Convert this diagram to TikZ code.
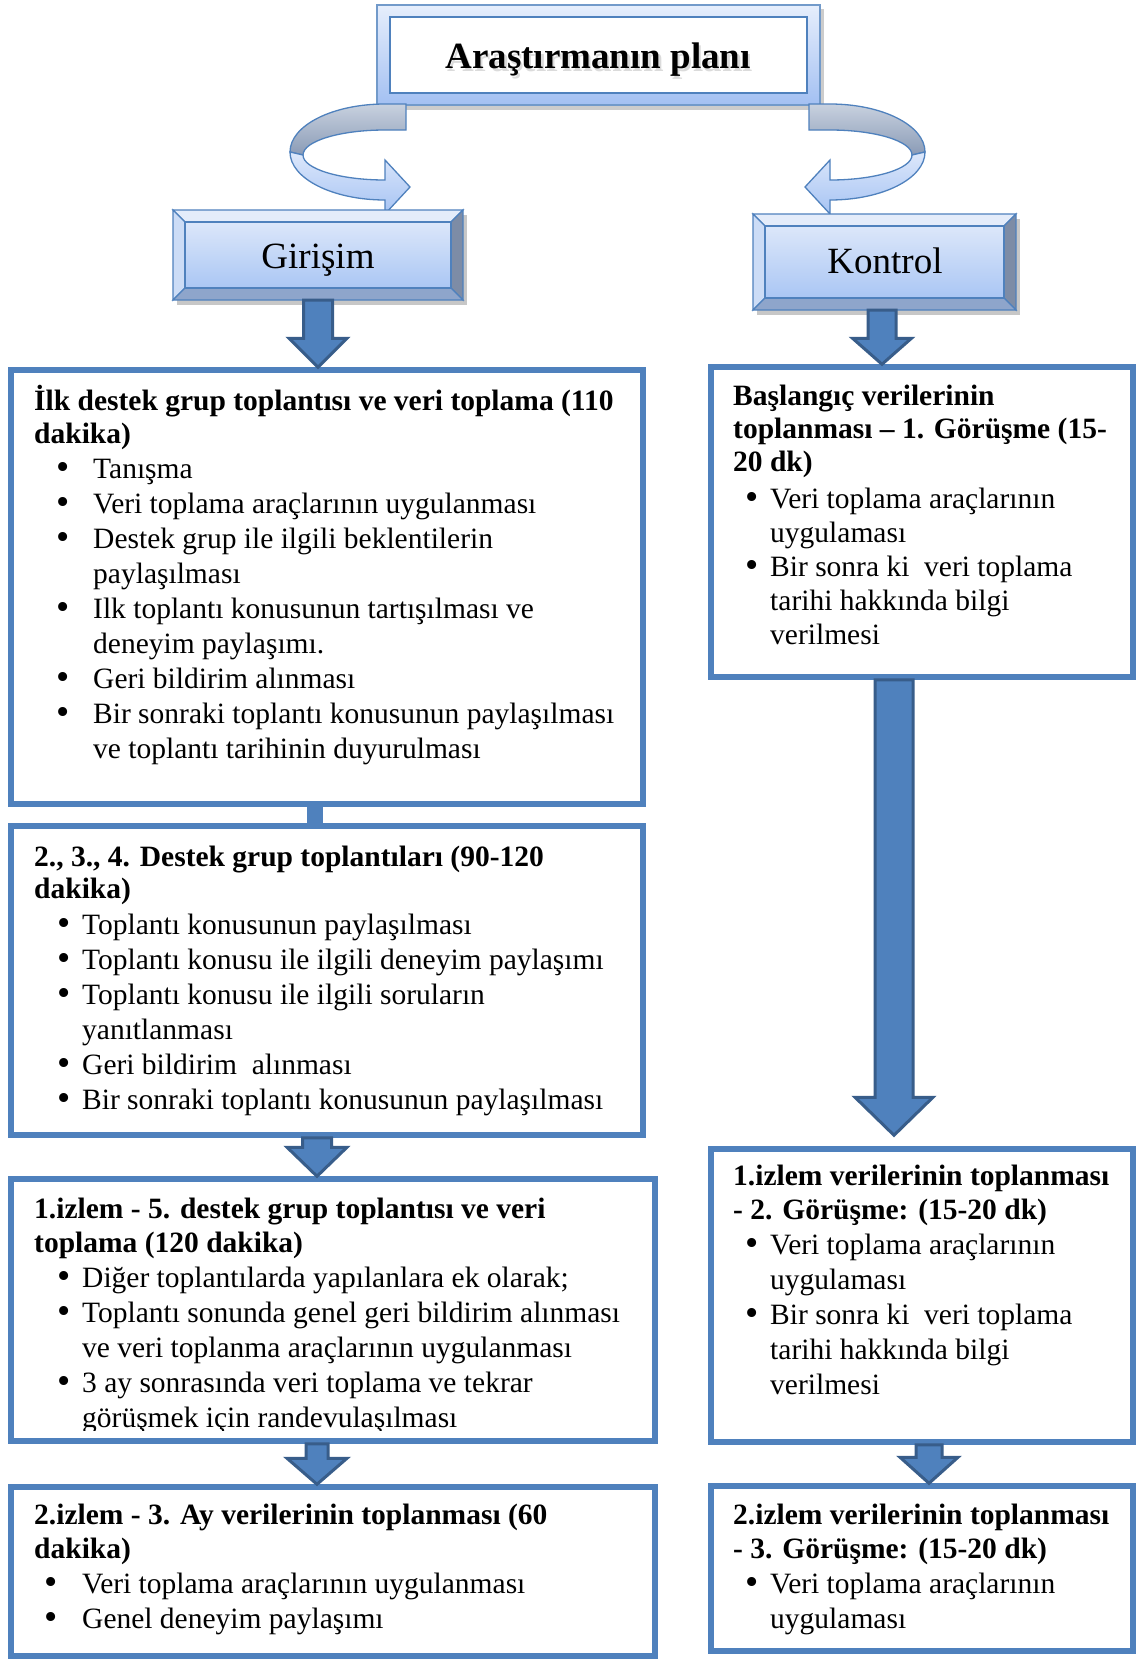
\documentclass[tikz,border=0pt]{standalone}
\usepackage{fontspec}
\setmainfont{Liberation Serif}
\usepackage{graphicx}
\usetikzlibrary{calc}
\definecolor{bord}{HTML}{4F81BD}
\definecolor{darkb}{HTML}{385D8A}
\definecolor{ttop}{HTML}{E6EEFC}
\definecolor{tbot}{HTML}{A3C0F2}
\definecolor{ftop}{HTML}{DCE7FA}
\definecolor{fbot}{HTML}{AAC6F4}
\definecolor{bvtop}{HTML}{E4ECFA}
\definecolor{bvleft}{HTML}{CCDCF6}
\definecolor{bvright}{HTML}{7D8CA6}
\definecolor{bvbot}{HTML}{8EA5CB}
\definecolor{rbtop}{HTML}{C8D1DF}
\definecolor{rbbot}{HTML}{8A9BB6}
\definecolor{rftop}{HTML}{DDE8FB}
\definecolor{rfbot}{HTML}{A6C3F3}
\newcommand\bdot{\makebox[0pt]{\raisebox{-0.04em}{\scalebox{1.28}{\textbullet}}}}
\newcommand\bi[3]{\hspace*{#1}\bdot\hspace*{\dimexpr#2-#1\relax}#3}
\newcommand\ci[2]{\hspace*{#1}#2}
\newcommand\blockarr[5]{\draw[barrow] let \p1=#1, \p2=#2 in
  (\x1-#3,\y1) -- (\x1+#3,\y1) -- (\x1+#3,\y2+#5) -- (\x1+#4,\y2+#5) -- (\x1,\y2)
  -- (\x1-#4,\y2+#5) -- (\x1-#3,\y2+#5) -- cycle;}
\newcommand\bevel[4]{%
  \fill[black,opacity=0.22] (#1+4,#2+5) rectangle (#3+4,#4+5);
  \filldraw[fill=bvtop,draw=bord,line width=1.2pt] (#1,#2) -- (#3,#2) -- (#3-12,#2+12) -- (#1+12,#2+12) -- cycle;
  \filldraw[fill=bvleft,draw=bord,line width=1.2pt] (#1,#2) -- (#1+12,#2+12) -- (#1+12,#4-12) -- (#1,#4) -- cycle;
  \filldraw[fill=bvright,draw=bord,line width=1.2pt] (#3,#2) -- (#3,#4) -- (#3-12,#4-12) -- (#3-12,#2+12) -- cycle;
  \filldraw[fill=bvbot,draw=bord,line width=1.2pt] (#1,#4) -- (#3,#4) -- (#3-12,#4-12) -- (#1+12,#4-12) -- cycle;
  \shadedraw[top color=ftop,bottom color=fbot,draw=bord,line width=1.2pt] (#1+12,#2+12) rectangle (#3-12,#4-12);}
\newcommand\ribbonarrow{%
  \shadedraw[top color=rbtop,bottom color=rbbot,draw=bord,line width=1.3pt]
    (21,-48) -- (0,-48) arc[start angle=270,end angle=180,x radius=95,y radius=48]
    -- (-82,3) arc[start angle=180,end angle=270,x radius=82,y radius=25] -- (21,-22) -- cycle;
  \shadedraw[top color=rftop,bottom color=rfbot,draw=bord,line width=1.3pt]
    (-95,0) arc[start angle=180,end angle=90,x radius=95,y radius=48]
    -- (0,62) -- (25,35) -- (0,8) -- (0,28)
    arc[start angle=90,end angle=180,x radius=82,y radius=25] -- cycle;}
\begin{document}
\begin{tikzpicture}[x=1pt,y=-1pt,
  tbox/.style={draw=bord,line width=5.5pt,fill=white,inner sep=0pt},
  txt/.style={anchor=base west,inner sep=0pt,font=\fontsize{29.5}{35}\selectfont},
  barrow/.style={fill=bord,draw=darkb,line width=3pt,line join=miter}]
\useasboundingbox (0,0) rectangle (1138,1660);
\fill[white] (0,0) rectangle (1138,1660);

% title
\fill[black,opacity=0.2] (380,9) rectangle (824,110);
\shadedraw[top color=ttop,bottom color=tbot,draw=bord!80,line width=1.5pt] (377,5) rectangle (820,105);
\node[fill=white,draw=bord,line width=2pt,minimum width=417pt,minimum height=76pt,inner sep=0pt] (title) at (598.5,55) {};
\node[anchor=base,inner sep=0pt,font=\fontsize{37}{40}\selectfont\bfseries,text=black!40,opacity=0.35] (titles) at (600.5,71) {Araştırmanın planı};
\node[anchor=base,inner sep=0pt,font=\fontsize{37}{40}\selectfont\bfseries] (titlet) at (598,68) {Araştırmanın planı};

% curved arrows
\begin{scope}[shift={(385,152)}] \ribbonarrow \end{scope}
\begin{scope}[shift={(830,152)},xscale=-1] \ribbonarrow \end{scope}

% Girisim / Kontrol
\bevel{173}{210}{463}{300}
\node[inner sep=0pt,minimum width=290pt,minimum height=90pt] (gir) at (318,255) {};
\node[anchor=base,inner sep=0pt,font=\fontsize{37}{40}\selectfont] (girt) at (318,268) {Girişim};
\bevel{753}{214}{1016}{310}
\node[inner sep=0pt,minimum width=263pt,minimum height=96pt] (kon) at (884.5,262) {};
\node[anchor=base,inner sep=0pt,font=\fontsize{37}{40}\selectfont] (kont) at (885,273) {Kontrol};

% boxes
\node[tbox,minimum width=632pt,minimum height=434pt] (b1) at (327,587) {};
\node[tbox,minimum width=632pt,minimum height=309pt] (b2) at (327,980.5) {};
\node[tbox,minimum width=644pt,minimum height=262pt] (b3) at (333,1310) {};
\node[tbox,minimum width=644pt,minimum height=169pt] (b4) at (333,1571.5) {};
\node[tbox,minimum width=422pt,minimum height=310pt] (r1) at (922,522) {};
\node[tbox,minimum width=422pt,minimum height=293pt] (r2) at (922,1295.5) {};
\node[tbox,minimum width=422pt,minimum height=165pt] (r3) at (922,1568.5) {};

% texts
\node[txt] (t1) at (34,410) {\begin{tabular}[t]{@{}l@{}}
\textbf{İlk destek grup toplantısı ve veri toplama (110}\\[-2pt]
\textbf{dakika)}\\
\bi{29pt}{59pt}{Tanışma}\\
\bi{29pt}{59pt}{Veri toplama araçlarının uygulanması}\\
\bi{29pt}{59pt}{Destek grup ile ilgili beklentilerin}\\
\ci{59pt}{paylaşılması}\\
\bi{29pt}{59pt}{Ilk toplantı konusunun tartışılması ve}\\
\ci{59pt}{deneyim paylaşımı.}\\
\bi{29pt}{59pt}{Geri bildirim alınması}\\
\bi{29pt}{59pt}{Bir sonraki toplantı konusunun paylaşılması}\\
\ci{59pt}{ve toplantı tarihinin duyurulması}
\end{tabular}};

\node[txt] (t2) at (34,866) {\begin{tabular}[t]{@{}l@{}}
\textbf{2., 3., 4. Destek grup toplantıları (90-120}\\[-3pt]
\textbf{dakika)}\\[1pt]
\bi{30pt}{48pt}{Toplantı konusunun paylaşılması}\\
\bi{30pt}{48pt}{Toplantı konusu ile ilgili deneyim paylaşımı}\\
\bi{30pt}{48pt}{Toplantı konusu ile ilgili soruların}\\
\ci{48pt}{yanıtlanması}\\
\bi{30pt}{48pt}{Geri bildirim\ \ alınması}\\
\bi{30pt}{48pt}{Bir sonraki toplantı konusunun paylaşılması}
\end{tabular}};

\begin{scope}
\clip (14,1182) rectangle (652,1430);
\node[txt] (t3) at (34,1218) {\begin{tabular}[t]{@{}l@{}}
\textbf{1.izlem - 5. destek grup toplantısı ve veri}\\[-1pt]
\textbf{toplama (120 dakika)}\\
\bi{30pt}{48pt}{Diğer toplantılarda yapılanlara ek olarak;}\\
\bi{30pt}{48pt}{Toplantı sonunda genel geri bildirim alınması}\\
\ci{48pt}{ve veri toplanma araçlarının uygulanması}\\
\bi{30pt}{48pt}{3 ay sonrasında veri toplama ve tekrar}\\
\ci{48pt}{görüşmek için randevulaşılması}
\end{tabular}};
\end{scope}

\node[txt] (t4) at (34,1524) {\begin{tabular}[t]{@{}l@{}}
\textbf{2.izlem - 3. Ay verilerinin toplanması (60}\\[-1pt]
\textbf{dakika)}\\
\bi{16.5pt}{48pt}{Veri toplama araçlarının uygulanması}\\
\bi{16.5pt}{48pt}{Genel deneyim paylaşımı}
\end{tabular}};

\node[txt] (tr1) at (733,405) {\begin{tabular}[t]{@{}l@{}}
\textbf{Başlangıç verilerinin}\\[-2pt]
\textbf{toplanması – 1. Görüşme (15-}\\[-2pt]
\textbf{20 dk)}\\[2pt]
\bi{19pt}{37pt}{Veri toplama araçlarının}\\[-1pt]
\ci{37pt}{uygulaması}\\[-1pt]
\bi{19pt}{37pt}{Bir sonra ki\ \ veri toplama}\\[-1pt]
\ci{37pt}{tarihi hakkında bilgi}\\[-1pt]
\ci{37pt}{verilmesi}
\end{tabular}};

\node[txt] (tr2) at (733,1185) {\begin{tabular}[t]{@{}l@{}}
\textbf{1.izlem verilerinin toplanması}\\[-1pt]
\textbf{- 2. Görüşme: (15-20 dk)}\\
\bi{19pt}{37pt}{Veri toplama araçlarının}\\
\ci{37pt}{uygulaması}\\
\bi{19pt}{37pt}{Bir sonra ki\ \ veri toplama}\\
\ci{37pt}{tarihi hakkında bilgi}\\
\ci{37pt}{verilmesi}
\end{tabular}};

\node[txt] (tr3) at (733,1524) {\begin{tabular}[t]{@{}l@{}}
\textbf{2.izlem verilerinin toplanması}\\[-1pt]
\textbf{- 3. Görüşme: (15-20 dk)}\\
\bi{19pt}{37pt}{Veri toplama araçlarının}\\
\ci{37pt}{uygulaması}
\end{tabular}};

% connectors
\blockarr{(gir.south)}{(b1.north)}{14.5pt}{29pt}{29pt}
\draw[bord,line width=16pt] ($(b1.south)+(-12,0)$) -- ($(b2.north)+(-12,0)$);
\blockarr{($(b2.south)+(-10,0)$)}{(b3.north)}{14.5pt}{30pt}{29pt}
\blockarr{($(b3.south)+(-16,0)$)}{(b4.north)}{11pt}{30pt}{26pt}
\blockarr{($(kon.south)+(-2.5,0)$)}{(r1.north)}{14pt}{29.5pt}{26pt}
\blockarr{($(r1.south)+(-28,0)$)}{($(r2.north)+(-28,-11)$)}{19pt}{39pt}{38pt}
\blockarr{($(r2.south)+(7,0)$)}{(r3.north)}{13pt}{29pt}{26pt}
\end{tikzpicture}
\end{document}
